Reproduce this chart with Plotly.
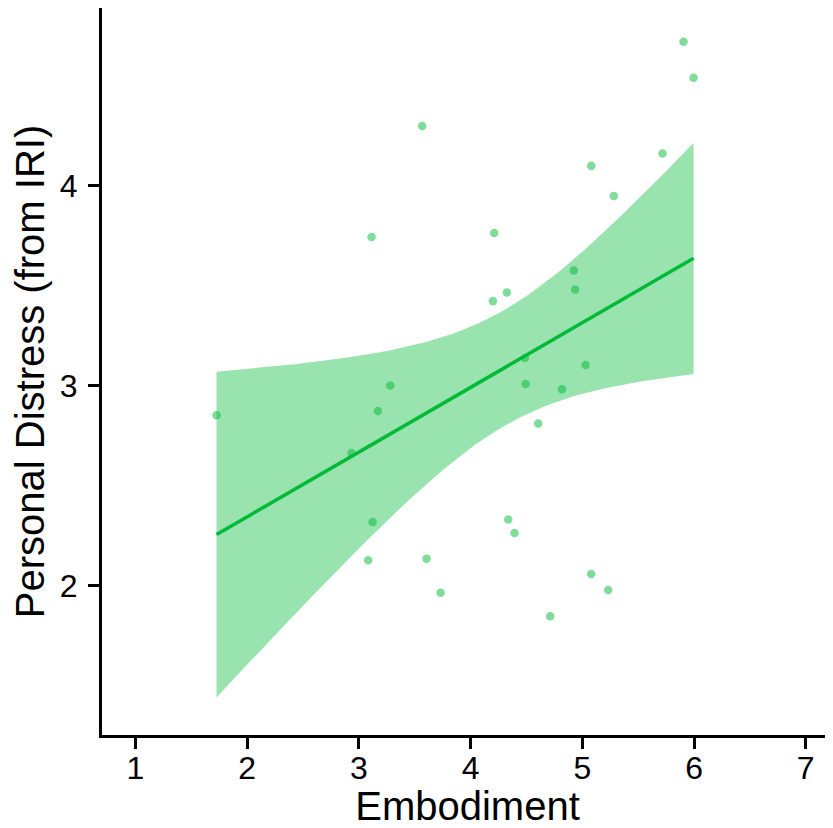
import numpy as np
import plotly.graph_objects as go

# Data
embodiment = [1.725, 2.934, 3.083, 3.113, 3.122, 3.169, 3.280, 3.567, 3.605, 3.731,
              4.199, 4.211, 4.324, 4.337, 4.393, 4.486, 4.492, 4.605, 4.712, 4.817,
              4.924, 4.936, 5.029, 5.080, 5.080, 5.232, 5.282, 5.718, 5.906, 5.996]
personal_distress = [2.852, 2.663, 2.127, 3.743, 2.318, 2.873, 3.000, 4.297, 2.135, 1.965,
                     3.422, 3.763, 3.465, 2.330, 2.263, 3.138, 3.008, 2.810, 1.847, 2.982,
                     3.575, 3.480, 3.103, 4.098, 2.058, 1.978, 3.947, 4.160, 4.718, 4.538]
x_ticks = [1, 2, 3, 4, 5, 6, 7]
y_ticks = [2, 3, 4]
x_range = [0.7, 7.244]
y_range = [1.2535, 4.887]
T_CRIT = 2.0484  # t(0.975, df=28)

GREEN = "#00BA38"

# linear model fit with 95% confidence band (as geom_smooth(method="lm"))
x = np.array(embodiment)
y = np.array(personal_distress)
n = len(x)
slope, intercept = np.polyfit(x, y, 1)
resid = y - (intercept + slope * x)
s = np.sqrt(np.sum(resid ** 2) / (n - 2))
xbar = x.mean()
sxx = np.sum((x - xbar) ** 2)
xg = np.linspace(x.min(), x.max(), 80)
yg = intercept + slope * xg
se = s * np.sqrt(1 / n + (xg - xbar) ** 2 / sxx)
lo = yg - T_CRIT * se
hi = yg + T_CRIT * se

fig = go.Figure()
fig.add_trace(go.Scatter(
    x=np.concatenate([xg, xg[::-1]]), y=np.concatenate([hi, lo[::-1]]),
    fill="toself", fillcolor="rgba(0,186,56,0.4)", line=dict(width=0),
    mode="lines", hoverinfo="skip", showlegend=False))
fig.add_trace(go.Scatter(
    x=embodiment, y=personal_distress, mode="markers",
    marker=dict(size=8.5, color="rgba(0,186,56,0.5)", line=dict(width=0)),
    showlegend=False))
fig.add_trace(go.Scatter(
    x=xg, y=yg, mode="lines", line=dict(color=GREEN, width=3.5),
    showlegend=False))

axis_common = dict(
    showgrid=False, zeroline=False, showline=True, linecolor="black", linewidth=3,
    ticks="outside", ticklen=11, tickwidth=3, tickcolor="black", automargin=False,
    tickfont=dict(family="Liberation Sans, Arial, sans-serif", size=32, color="black"),
)

# the page body has an 8px margin, so the figure is 8px smaller and margins compensate
fig.update_layout(
    width=825, height=820,
    margin=dict(l=94, r=0, t=0, b=93),
    paper_bgcolor="white", plot_bgcolor="white",
    font=dict(family="Liberation Sans, Arial, sans-serif", color="black"),
    xaxis=dict(range=x_range, tickvals=x_ticks, ticklabelstandoff=-8,
               title=dict(text="Embodiment", font=dict(size=40), standoff=7),
               **axis_common),
    yaxis=dict(range=y_range, tickvals=y_ticks, ticklabelstandoff=4,
               title=dict(text="Personal Distress (from IRI)", font=dict(size=40), standoff=3),
               **axis_common),
)

fig.write_html("out.html")
